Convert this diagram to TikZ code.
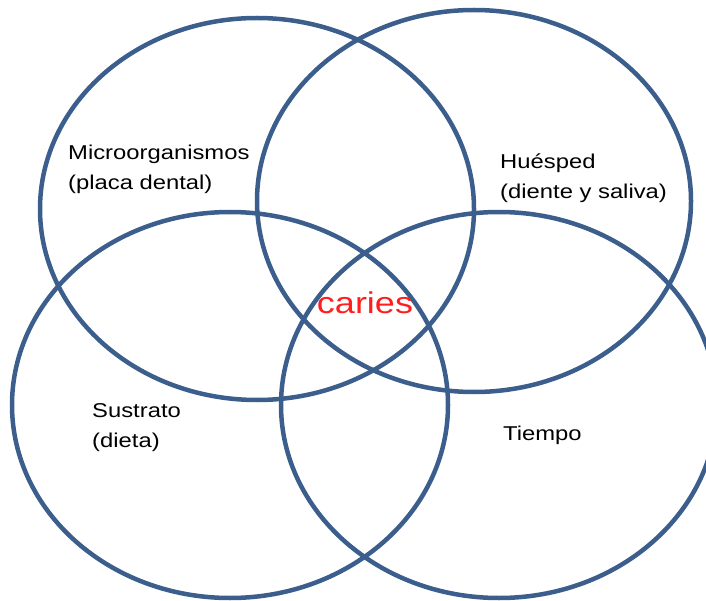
\documentclass[tikz,border=0pt]{standalone}
\usepackage{fontspec}
\setmainfont{Liberation Sans}
\definecolor{ringblue}{RGB}{59,94,140}
\definecolor{cariesred}{RGB}{255,30,30}
\begin{document}
\begin{tikzpicture}[x=1pt,y=-1pt,
  ring/.style={draw=ringblue,line width=4.5pt},
  lbl/.style={anchor=base west,align=left,inner sep=0pt,xscale=1.19,
    font=\fontsize{20}{30}\selectfont},
  center/.style={anchor=base,inner sep=0pt,xscale=1.2,text=cariesred,
    font=\fontsize{30}{36}\selectfont}]
\useasboundingbox (0,0) rectangle (706,601);
\begin{scope}
\clip (0,0) rectangle (706,601);
\draw[ring] (257,209) ellipse [x radius=217,y radius=191];
\draw[ring] (474,201) ellipse [x radius=217,y radius=191];
\draw[ring] (230,405) ellipse [x radius=218,y radius=193];
\draw[ring] (499,405) ellipse [x radius=218,y radius=193];
\end{scope}
\node[lbl] (micro) at (68,190) {Microorganismos\\(placa dental)};
\node[lbl] (host) at (500,199) {Huésped\\(diente y saliva)};
\node[lbl] (sub) at (92,447) {Sustrato\\(dieta)};
\node[lbl] (time) at (503,440) {Tiempo};
\node[center] (caries) at (365,313) {caries};
\end{tikzpicture}
\end{document}
